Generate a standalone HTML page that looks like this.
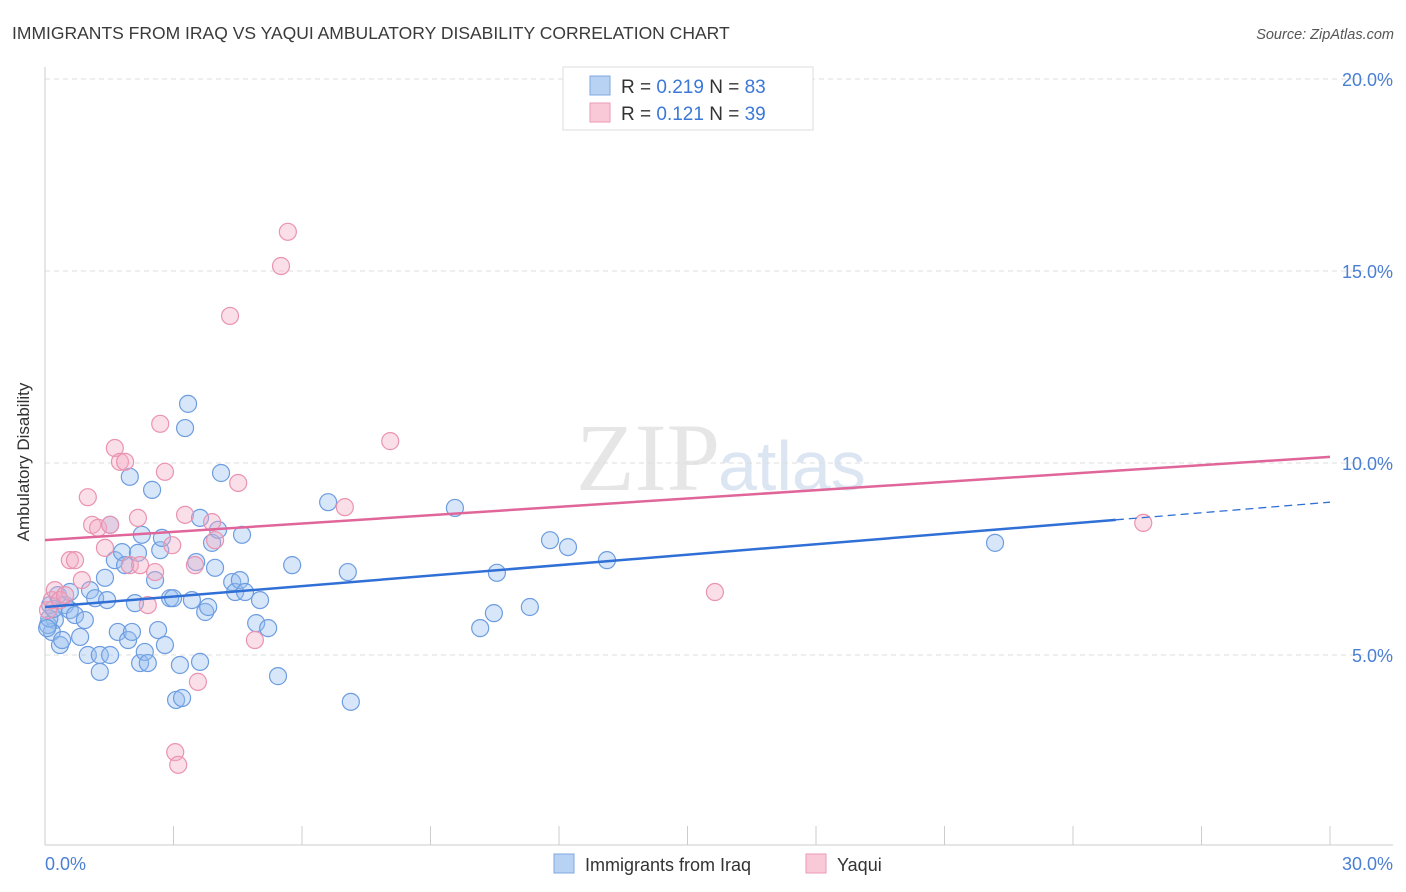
<!DOCTYPE html>
<html><head><meta charset="utf-8">
<style>
body{margin:0;background:#fff;font-family:"Liberation Sans",sans-serif;}
#wrap{position:relative;width:1406px;height:892px;overflow:hidden;}
</style></head>
<body>
<div id="wrap">
<svg id="svg" width="1406" height="892" xmlns="http://www.w3.org/2000/svg">
<text x="12" y="39" font-size="17.5" fill="#3a3a3a">IMMIGRANTS FROM IRAQ VS YAQUI AMBULATORY DISABILITY CORRELATION CHART</text>
<text x="1394" y="39" font-size="14.5" fill="#555" font-style="italic" text-anchor="end">Source: ZipAtlas.com</text>
<text x="720" y="490" font-size="96" fill="#e6e6e6" text-anchor="end" font-family="Liberation Serif,serif">ZIP</text>
<text x="718" y="490" font-size="70" fill="#dce6f3">atlas</text>
<text x="22" y="455" font-size="17" fill="#333" transform="rotate(-90 29 455)" text-anchor="middle">Ambulatory Disability</text>
<g id="grid"></g><g id="axes"></g><g id="pts"></g><g id="lines"></g>
<g>
<rect x="563" y="67" width="250" height="63" fill="#fff" stroke="#ddd"/>
<rect x="590" y="76" width="20" height="19" fill="#b8d2f3" stroke="#7fa8e0"/>
<rect x="590" y="103" width="20" height="19" fill="#f9c9d8" stroke="#ec9ab5"/>
<text x="621" y="93" font-size="19" fill="#333">R = <tspan fill="#3b78d8">0.219</tspan>   N = <tspan fill="#3b78d8">83</tspan></text>
<text x="621" y="120" font-size="19" fill="#333">R =  <tspan fill="#3b78d8">0.121</tspan>   N = <tspan fill="#3b78d8">39</tspan></text>
</g>
<g>
<rect x="554" y="854" width="20" height="19" fill="#b8d2f3" stroke="#7fa8e0"/>
<text x="585" y="871" font-size="18" fill="#333">Immigrants from Iraq</text>
<rect x="806" y="854" width="20" height="19" fill="#f9c9d8" stroke="#ec9ab5"/>
<text x="837" y="871" font-size="18" fill="#333">Yaqui</text>
</g>
</svg>
</div>
<script>
const yTicks=[5,10,15,20];
const yTickLabels=["5.0%","10.0%","15.0%","20.0%"];
const xTickLabels=["0.0%","30.0%"];
const iraqX=[0.12,0.23,0.16,0.35,0.47,0.58,0.70,0.82,0.93,1.00,1.05,1.17,1.28,1.28,1.40,1.45,1.52,1.52,1.63,1.70,1.80,1.87,1.94,1.98,2.03,2.10,2.17,2.22,2.26,2.33,2.40,2.50,2.57,2.64,2.69,2.73,2.80,2.92,2.99,3.06,3.15,3.20,3.27,3.34,3.43,3.53,3.62,3.62,3.74,3.81,3.90,3.97,4.04,4.11,4.37,4.44,4.55,4.60,4.67,4.93,5.02,5.21,5.44,5.77,6.61,7.07,7.14,9.57,10.16,10.48,10.55,11.32,11.79,12.21,13.12,22.18,0.07,0.30,0.40,0.58,0.10,0.20,0.05];
const iraqY=[6.30,5.91,5.60,5.26,6.30,6.17,6.04,5.47,5.91,5.00,6.69,6.48,4.56,5.00,7.01,6.43,5.00,8.39,7.47,5.60,7.68,7.34,5.39,9.64,5.60,6.35,7.66,4.79,8.13,5.08,4.79,9.30,6.95,5.65,7.73,8.05,5.26,6.48,6.48,3.83,4.74,3.88,10.91,11.54,6.43,7.42,4.82,8.57,6.12,6.25,7.92,7.27,8.26,9.74,6.90,6.64,6.95,8.13,6.64,5.83,6.43,5.70,4.45,7.34,8.98,7.16,3.78,8.83,5.70,6.09,7.14,6.25,7.99,7.81,7.47,7.92,5.78,6.56,5.39,6.64,5.95,6.20,5.70];
const yaquiX=[0.07,0.16,0.23,0.35,0.47,0.58,0.70,0.86,1.00,1.10,1.24,1.40,1.52,1.63,1.75,1.87,1.98,2.17,2.22,2.40,2.57,2.69,2.80,2.97,3.04,3.11,3.27,3.50,3.57,3.90,3.97,4.32,4.51,4.90,5.51,5.67,7.00,8.06,15.64,25.64];
const yaquiY=[6.17,6.43,6.69,6.43,6.56,7.47,7.47,6.95,9.11,8.39,8.31,7.79,8.39,10.39,10.03,10.03,7.34,8.57,7.34,6.30,7.16,11.02,9.77,7.86,2.47,2.14,8.65,7.34,4.30,8.46,7.99,13.83,9.48,5.39,15.13,16.02,8.85,10.57,6.64,8.44];
const iraqTrend=[6.25,8.52,8.98]; // at x=0, 25, 30
const yaquiTrend=[7.99,10.16]; // at x=0, 30
const NS="http://www.w3.org/2000/svg";
const X=v=>45+v*1285/30, Y=v=>847-v*38.4;
function mk(t,a,p){const e=document.createElementNS(NS,t);for(const k in a)e.setAttribute(k,a[k]);p.appendChild(e);return e;}
const grid=document.getElementById('grid'),axes=document.getElementById('axes');
yTicks.forEach((t,i)=>{
 const l=mk('line',{x1:45,x2:1393,y1:Y(t),y2:Y(t),stroke:'#ddd','stroke-dasharray':'5,4'},grid);
 
 
 const tx=mk('text',{x:1393,y:Y(t)+7,'font-size':18,fill:'#4a7fd4','text-anchor':'end'},axes);
 tx.textContent=yTickLabels[i];
 
 
});
let ax=mk('line',{x1:45,x2:45,y1:67,y2:845,stroke:'#ccc'},axes);


ax=mk('line',{x1:45,x2:1393,y1:845,y2:845,stroke:'#ccc'},axes);


for(let i=1;i<=10;i++){const t=mk('line',{x1:X(i*3),x2:X(i*3),y1:826,y2:845,stroke:'#ccc'},axes);
 
 }
[[0,'start',45],[30,'end',1393]].forEach((d,i)=>{const t=mk('text',{x:d[2],y:870,'font-size':18,fill:'#4a7fd4','text-anchor':d[1]},axes);t.textContent=xTickLabels[i];
 
 });
const pts=document.getElementById('pts');
iraqX.forEach((x,i)=>{const c=mk('circle',{cx:X(x),cy:Y(iraqY[i]),r:8.5,fill:'rgba(150,190,240,0.38)',stroke:'#6d9de0','stroke-width':1.2},pts);
 
 });
yaquiX.forEach((x,i)=>{const c=mk('circle',{cx:X(x),cy:Y(yaquiY[i]),r:8.5,fill:'rgba(245,170,195,0.38)',stroke:'#ea93b1','stroke-width':1.2},pts);
 
 });
const lines=document.getElementById('lines');
let l=mk('line',{x1:X(0),y1:Y(iraqTrend[0]),x2:X(25),y2:Y(iraqTrend[1]),stroke:'#2f6fd6','stroke-width':2.5},lines);


l=mk('line',{x1:X(25),y1:Y(iraqTrend[1]),x2:X(30),y2:Y(iraqTrend[2]),stroke:'#2f6fd6','stroke-width':1.3,'stroke-dasharray':'8,5'},lines);


l=mk('line',{x1:X(0),y1:Y(yaquiTrend[0]),x2:X(30),y2:Y(yaquiTrend[1]),stroke:'#e0669a','stroke-width':2.5},lines);


</script>
</body></html>
